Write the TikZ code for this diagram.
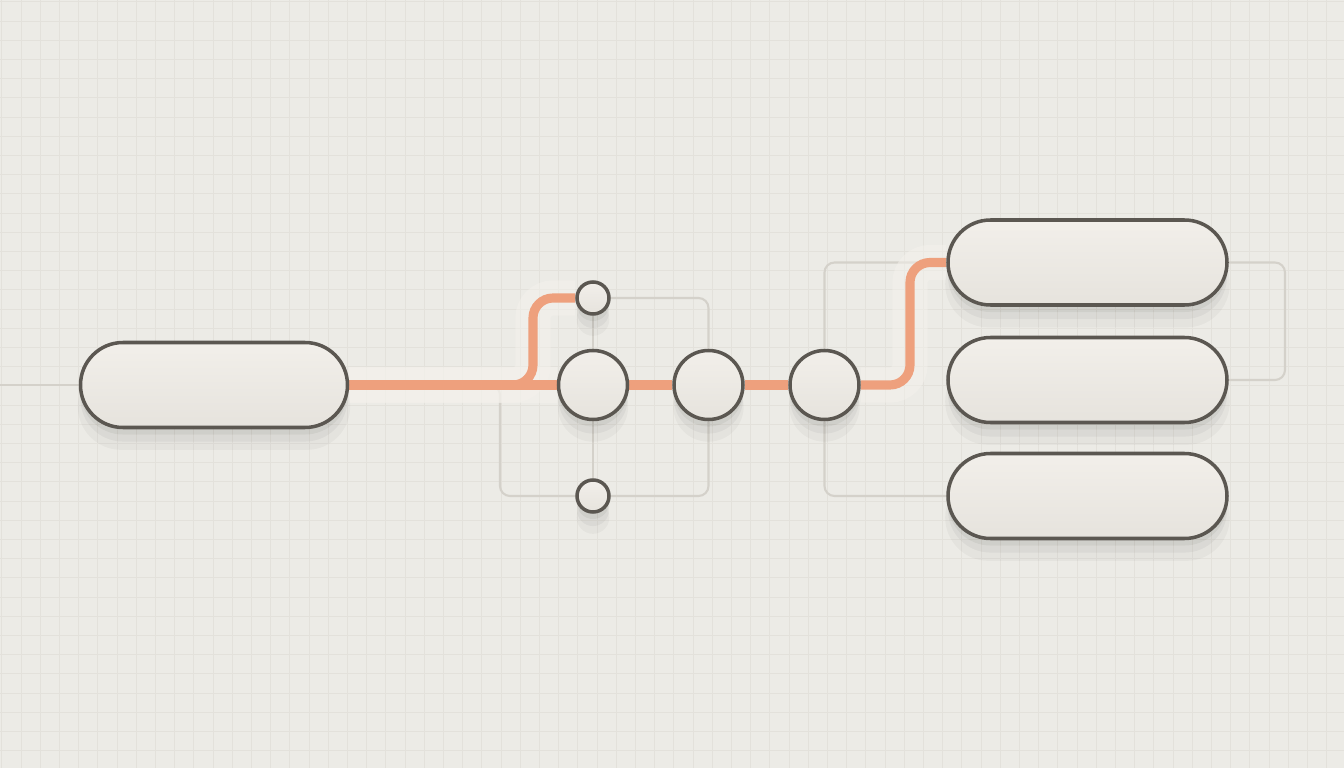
\documentclass[tikz,border=0pt]{standalone}
\usetikzlibrary{shapes.misc,shadows}

\definecolor{sfondo}{HTML}{ECEBE6}
\definecolor{griglia}{HTML}{E3E1DB}
\definecolor{bordo}{HTML}{5B5751}
\definecolor{filo}{HTML}{D4D1CA}
\definecolor{arancio}{HTML}{EEA07D}
\definecolor{chiaro}{HTML}{F2EFEA}
\definecolor{scuro}{HTML}{E6E3DD}
\definecolor{luce}{HTML}{F4F1EC}

\pgfdeclarelayer{fondo}
\pgfdeclarelayer{fili}
\pgfsetlayers{fondo,fili,main}

\tikzset{
  ombra/.style={
    drop shadow={shadow xshift=0pt, shadow yshift=-2pt, opacity=0.05, fill=black},
    drop shadow={shadow xshift=0pt, shadow yshift=-4pt, opacity=0.04, fill=black},
    drop shadow={shadow xshift=0pt, shadow yshift=-6pt, shadow scale=1.02, opacity=0.03, fill=black}},
  pillola/.style={rounded rectangle, draw=bordo, line width=1pt, top color=chiaro, bottom color=scuro,
    minimum height=0.85cm, inner sep=0pt, ombra},
  nodo/.style={circle, draw=bordo, line width=1pt, top color=chiaro, bottom color=scuro,
    minimum size=0.69cm, inner sep=0pt, ombra},
  nodino/.style={nodo, minimum size=0.32cm},
  filo/.style={draw=filo, line width=0.6pt, rounded corners=0.1cm},
  alone/.style={draw=luce, line width=10pt, opacity=0.5, rounded corners=0.2cm},
  caldo/.style={draw=arancio, line width=2.6pt, rounded corners=0.2cm}
}

\begin{document}
\begin{tikzpicture}[x=1cm, y=-1cm]
\useasboundingbox (0,0) rectangle (13.44,7.68);

% Sfondo e griglia
\begin{pgfonlayer}{fondo}
\fill[sfondo] (0,0) rectangle (13.44,7.68);
\foreach \i in {0,...,69}
  \draw[griglia, line width=0.25pt] (0.018+0.192*\i,0) -- ++(0,7.68);
\foreach \j in {0,...,39}
  \draw[griglia, line width=0.25pt] (0,0.018+0.192*\j) -- ++(13.44,0);
\end{pgfonlayer}

% Ingresso
\node[pillola, minimum width=2.67cm] (src) at (2.14,3.85) {};

% Snodi
\node[nodo] (hub) at (5.93,3.85) {};
\node[nodo] (mid) at (7.085,3.85) {};
\node[nodo] (tail) at (8.245,3.85) {};
\node[nodino] (up) at (5.93,2.98) {};
\node[nodino] (down) at (5.93,4.96) {};

% Uscite
\node[pillola, minimum width=2.79cm] (outA) at (10.875,2.625) {};
\node[pillola, minimum width=2.79cm] (outB) at (10.875,3.80) {};
\node[pillola, minimum width=2.79cm] (outC) at (10.875,4.96) {};

% Coordinate di passaggio
\coordinate (bordoSx) at (0,3.85);
\coordinate (giuntoA) at (5.00,3.85);
\coordinate (curvaA) at (5.33,3.85);
\coordinate (curvaB) at (9.10,3.85);
\coordinate (ritorno) at (12.85,2.625);

\begin{pgfonlayer}{fili}
% Fili grigi
\draw[filo] (bordoSx) -- (src.west);
\draw[filo] (src.east) -- (giuntoA) |- (down.west);
\draw[filo] (up) -- (hub);
\draw[filo] (hub) -- (down);
\draw[filo] (up.east) -| (mid.north);
\draw[filo] (down.east) -| (mid.south);
\draw[filo] (tail.north) |- (outA.west);
\draw[filo] (tail.south) |- (outC.west);
\draw[filo] (outA.east) -- (ritorno) |- (outB.east);

% Percorso arancione
\draw[alone] (src.east) -- (hub.west);
\draw[alone] (src.east) -- (curvaA) |- (up.west);
\draw[alone] (tail.east) -- (curvaB) |- (outA.west);
\draw[caldo] (src.east) -- (hub.west);
\draw[caldo] (src.east) -- (curvaA) |- (up.west);
\draw[caldo] (hub.east) -- (mid.west);
\draw[caldo] (mid.east) -- (tail.west);
\draw[caldo] (tail.east) -- (curvaB) |- (outA.west);
\end{pgfonlayer}

\end{tikzpicture}
\end{document}
